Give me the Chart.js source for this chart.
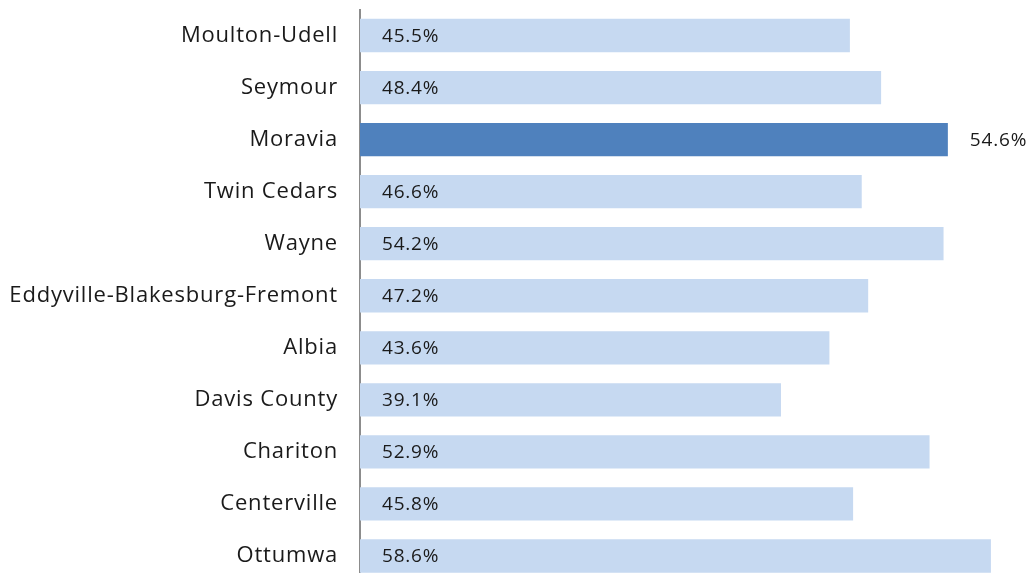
<!DOCTYPE html>
<html>
<head>
<meta charset="utf-8">
<script src="https://cdn.jsdelivr.net/npm/chart.js@4.4.1/dist/chart.umd.min.js"></script>
<style>
  html, body { margin: 0; padding: 0; background: #fff; overflow: hidden; }
  canvas { display: block; }
</style>
</head>
<body>
<canvas id="chart" width="1028" height="582"></canvas>
<script>
// data
var districts = ["Moulton-Udell", "Seymour", "Moravia", "Twin Cedars", "Wayne",
    "Eddyville-Blakesburg-Fremont", "Albia", "Davis County", "Chariton", "Centerville", "Ottumwa"];
var rates = [45.5, 48.4, 54.6, 46.6, 54.2, 47.2, 43.6, 39.1, 52.9, 45.8, 58.6];
var highlight = "Moravia";

var lightBlue = "#C6D9F1";
var darkBlue = "#4F81BD";

var barColors = districts.map(function (d) {
    return d === highlight ? darkBlue : lightBlue;
});

// slightly wider text, closer to the original font
var spacing = {
    id: "spacing",
    beforeLayout: function (chart) { chart.ctx.letterSpacing = "0.8px"; },
    beforeDraw: function (chart) { chart.ctx.letterSpacing = "0.8px"; }
};

// value labels: inside bar at the left, outside for the highlighted one
var valueLabels = {
    id: "valueLabels",
    afterDatasetsDraw: function (chart) {
        var ctx = chart.ctx;
        var meta = chart.getDatasetMeta(0);
        ctx.save();
        ctx.font = "19px 'Open Sans'";
        ctx.fillStyle = "#1a1a1a";
        ctx.textBaseline = "middle";
        ctx.textAlign = "left";
        meta.data.forEach(function (bar, i) {
            var txt = rates[i].toFixed(1) + "%";
            if (districts[i] === highlight) {
                ctx.fillText(txt, bar.x + 22, bar.y + 1);
            } else {
                ctx.fillText(txt, bar.base + 22, bar.y + 1);
            }
        });
        ctx.restore();
    }
};

var ctx = document.getElementById("chart").getContext("2d");
var myChart = new Chart(ctx, {
    type: "bar",
    data: {
        labels: districts,
        datasets: [{
            data: rates,
            backgroundColor: barColors,
            borderWidth: 0,
            categoryPercentage: 1,
            barPercentage: 0.64
        }]
    },
    options: {
        indexAxis: "y",
        responsive: false,
        animation: false,
        layout: { padding: { top: 9.5, right: 22, bottom: 0, left: 0 } },
        plugins: {
            legend: { display: false },
            tooltip: { enabled: false }
        },
        scales: {
            x: {
                display: false,
                min: 0,
                max: 60
            },
            y: {
                afterFit: function (scale) {
                    scale.width = 360;
                    scale.paddingTop = 0;
                    scale.paddingBottom = 0;
                },
                grid: { display: false, drawTicks: false },
                border: { display: true, color: "#8c8c8c", width: 2 },
                ticks: {
                    padding: 22,
                    color: "#1a1a1a",
                    font: { family: "'Open Sans'", size: 22 }
                }
            }
        }
    },
    plugins: [spacing, valueLabels]
});
</script>
</body>
</html>
